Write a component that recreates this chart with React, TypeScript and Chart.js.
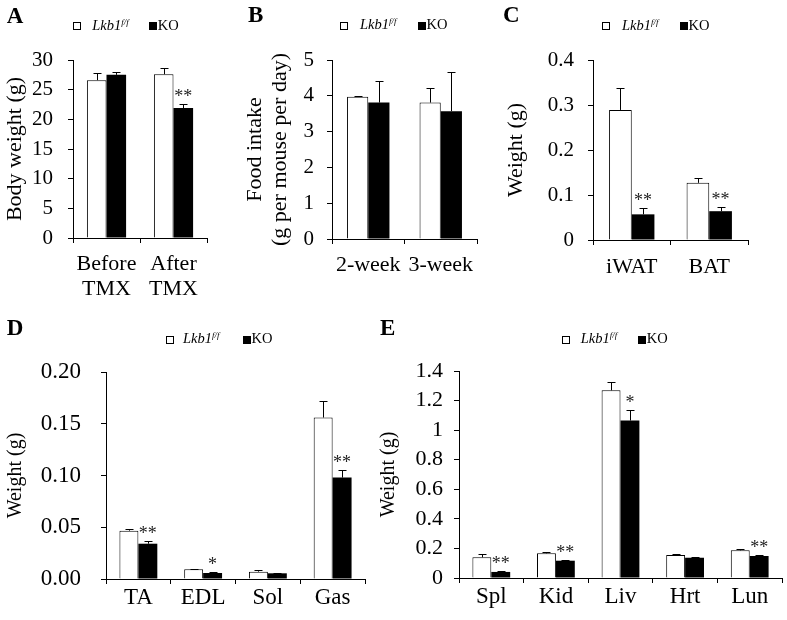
import React, { useEffect, useRef } from "react";
import { Chart, registerables } from "chart.js";
Chart.register(...registerables);

const FONT = "'Liberation Serif', 'Times New Roman', Times, serif";

// ---------- Panel A: body weight ----------
const A_CATS = [["Before", "TMX"], ["After", "TMX"]];
const A_WT = [26.6, 27.6];
const A_WT_ERR = [1.2, 1.0];
const A_KO = [27.5, 21.9];
const A_KO_ERR = [0.4, 0.7];
const A_SIG = ["", "**"];
const A_TICKS = ["0", "5", "10", "15", "20", "25", "30"];

// ---------- Panel B: food intake ----------
const B_CATS = ["2-week", "3-week"];
const B_WT = [3.97, 3.81];
const B_WT_ERR = [0.02, 0.41];
const B_KO = [3.81, 3.57];
const B_KO_ERR = [0.61, 1.1];
const B_SIG = ["", ""];
const B_TICKS = ["0", "1", "2", "3", "4", "5"];

// ---------- Panel C: fat weight ----------
const C_CATS = ["iWAT", "BAT"];
const C_WT = [0.289, 0.127];
const C_WT_ERR = [0.048, 0.01];
const C_KO = [0.057, 0.064];
const C_KO_ERR = [0.014, 0.009];
const C_SIG = ["**", "**"];
const C_TICKS = ["0", "0.1", "0.2", "0.3", "0.4"];

// ---------- Panel D: muscle weight ----------
const D_CATS = ["TA", "EDL", "Sol", "Gas"];
const D_WT = [0.0467, 0.0093, 0.0071, 0.156];
const D_WT_ERR = [0.0016, 0.0005, 0.0013, 0.016];
const D_KO = [0.0341, 0.0058, 0.0055, 0.098];
const D_KO_ERR = [0.0023, 0.0006, 0.0004, 0.0074];
const D_SIG = ["**", "*", "", "**"];
const D_TICKS = ["0.00", "0.05", "0.10", "0.15", "0.20"];

// ---------- Panel E: organ weight ----------
const E_CATS = ["Spl", "Kid", "Liv", "Hrt", "Lun"];
const E_WT = [0.14, 0.167, 1.269, 0.155, 0.187];
const E_WT_ERR = [0.022, 0.009, 0.054, 0.007, 0.009];
const E_KO = [0.041, 0.117, 1.065, 0.137, 0.149];
const E_KO_ERR = [0.004, 0.004, 0.074, 0.004, 0.007];
const E_SIG = ["**", "**", "*", "", "**"];
const E_TICKS = ["0", "0.2", "0.4", "0.6", "0.8", "1", "1.2", "1.4"];

const SERIES_WT = "Lkb1 f/f";
const SERIES_KO = "KO";

const errorBarPlugin = {
  id: "errorBars",
  afterDatasetsDraw(chart: any) {
    const ctx = chart.ctx;
    const ys = chart.scales.y;
    chart.data.datasets.forEach((ds: any, di: number) => {
      const meta = chart.getDatasetMeta(di);
      const errs = ds.errors || [];
      const sig = ds.sig || [];
      meta.data.forEach((bar: any, i: number) => {
        const v = ds.data[i];
        const topPx = Math.round(ys.getPixelForValue(v + (errs[i] || 0))) + 0.5;
        const x = Math.round(bar.x) + 0.5;
        ctx.save();
        ctx.strokeStyle = "#000";
        ctx.lineWidth = 1;
        ctx.beginPath();
        ctx.moveTo(x, bar.y);
        ctx.lineTo(x, topPx);
        ctx.moveTo(x - 4, topPx);
        ctx.lineTo(x + 4, topPx);
        ctx.stroke();
        if (sig[i]) {
          ctx.font = `18px ${FONT}`;
          ctx.fillStyle = "#222";
          ctx.textAlign = "center";
          ctx.textBaseline = "alphabetic";
          ctx.fillText(sig[i], bar.x, topPx - 3);
        }
        ctx.restore();
      });
    });
  },
};

type PanelCfg = {
  left: number; top: number; w: number; h: number;
  cats: any[]; wt: number[]; wtErr: number[]; ko: number[]; koErr: number[]; sig: string[];
  ticks: string[]; min: number; max: number; step: number;
  title: string | string[]; titleSize: number; titlePad: number;
  tickSize: number; tickPad: number;
  xSize: number; xLH: number; xPad: number;
  pad: { top: number; right: number; bottom: number; left: number };
  yWidth: number; xHeight: number;
};

const PANELS: PanelCfg[] = [
  {
    left: 0, top: 0, w: 240, h: 310,
    cats: A_CATS, wt: A_WT, wtErr: A_WT_ERR, ko: A_KO, koErr: A_KO_ERR, sig: A_SIG,
    ticks: A_TICKS, min: 0, max: 30, step: 5,
    title: "Body weight (g)", titleSize: 22, titlePad: 2.5,
    tickSize: 21, tickPad: 15, xSize: 22, xLH: 25 / 22, xPad: 9,
    pad: { top: 60, right: 33, bottom: 0, left: 0 }, yWidth: 73, xHeight: 72,
  },
  {
    left: 242, top: 0, w: 258, h: 310,
    cats: B_CATS, wt: B_WT, wtErr: B_WT_ERR, ko: B_KO, koErr: B_KO_ERR, sig: B_SIG,
    ticks: B_TICKS, min: 0, max: 5, step: 1,
    title: ["Food intake", "(g per mouse per day)"], titleSize: 22, titlePad: 0.5,
    tickSize: 21, tickPad: 13, xSize: 22, xLH: 25 / 22, xPad: 9,
    pad: { top: 60, right: 23, bottom: 0, left: 0 }, yWidth: 90, xHeight: 71,
  },
  {
    left: 500, top: 0, w: 287, h: 310,
    cats: C_CATS, wt: C_WT, wtErr: C_WT_ERR, ko: C_KO, koErr: C_KO_ERR, sig: C_SIG,
    ticks: C_TICKS, min: 0, max: 0.4, step: 0.1,
    title: "Weight (g)", titleSize: 22, titlePad: 3.5,
    tickSize: 21, tickPad: 14, xSize: 22, xLH: 25 / 22, xPad: 10,
    pad: { top: 60, right: 39, bottom: 0, left: 0 }, yWidth: 93, xHeight: 70,
  },
  {
    left: 0, top: 310, w: 375, h: 310,
    cats: D_CATS, wt: D_WT, wtErr: D_WT_ERR, ko: D_KO, koErr: D_KO_ERR, sig: D_SIG,
    ticks: D_TICKS, min: 0, max: 0.2, step: 0.05,
    title: "Weight (g)", titleSize: 20, titlePad: 4.6,
    tickSize: 23, tickPad: 20, xSize: 23, xLH: 1.2, xPad: 0,
    pad: { top: 62, right: 10, bottom: 0, left: 0 }, yWidth: 106, xHeight: 41,
  },
  {
    left: 375, top: 310, w: 412, h: 310,
    cats: E_CATS, wt: E_WT, wtErr: E_WT_ERR, ko: E_KO, koErr: E_KO_ERR, sig: E_SIG,
    ticks: E_TICKS, min: 0, max: 1.4, step: 0.2,
    title: "Weight (g)", titleSize: 20, titlePad: 2.6,
    tickSize: 22, tickPad: 11, xSize: 23, xLH: 1.2, xPad: 0,
    pad: { top: 61, right: 5, bottom: 0, left: 0 }, yWidth: 84, xHeight: 42,
  },
];

function makeConfig(p: PanelCfg): any {
  return {
    type: "bar",
    data: {
      labels: p.cats,
      datasets: [
        {
          label: SERIES_WT, data: p.wt, errors: p.wtErr, sig: [],
          backgroundColor: "#fff", borderColor: "#000", borderWidth: 1,
          categoryPercentage: 0.585, barPercentage: 1,
        },
        {
          label: SERIES_KO, data: p.ko, errors: p.koErr, sig: p.sig,
          backgroundColor: "#000", borderColor: "#000", borderWidth: 0,
          categoryPercentage: 0.585, barPercentage: 1,
        },
      ],
    },
    options: {
      animation: false,
      responsive: false,
      devicePixelRatio: 1,
      layout: { padding: p.pad },
      plugins: { legend: { display: false }, tooltip: { enabled: false } },
      scales: {
        x: {
          type: "category",
          afterFit: (s: any) => { s.height = p.xHeight; },
          grid: { display: true, offset: true, drawOnChartArea: false, drawTicks: true, tickLength: 5, color: "#000", lineWidth: 1 },
          border: { display: true, color: "#000", width: 1 },
          ticks: {
            color: "#000", padding: p.xPad, maxRotation: 0, autoSkip: false,
            font: { family: FONT, size: p.xSize, lineHeight: p.xLH },
          },
        },
        y: {
          min: p.min, max: p.max,
          afterFit: (s: any) => { s.width = p.yWidth; },
          grid: { display: true, drawOnChartArea: false, drawTicks: true, tickLength: 5, color: "#000", lineWidth: 1 },
          border: { display: true, color: "#000", width: 1 },
          ticks: {
            stepSize: p.step, color: "#000", padding: p.tickPad,
            font: { family: FONT, size: p.tickSize },
            callback: (_v: any, i: number) => p.ticks[i],
          },
          title: {
            display: true, text: p.title, color: "#000",
            font: { family: FONT, size: p.titleSize, lineHeight: 25 / 22 },
            padding: { top: p.titlePad, bottom: 0 },
          },
        },
      },
    },
    plugins: [errorBarPlugin],
  };
}

function Panel({ p }: { p: PanelCfg }) {
  const ref = useRef<HTMLCanvasElement | null>(null);
  useEffect(() => {
    if (!ref.current) return;
    const chart = new Chart(ref.current, makeConfig(p));
    return () => chart.destroy();
  }, [p]);
  return (
    <canvas
      ref={ref}
      width={p.w}
      height={p.h}
      style={{ position: "absolute", left: p.left, top: p.top, width: p.w, height: p.h }}
    />
  );
}

function Txt({ x, baseline, size, bold, italic, children }: any) {
  return (
    <div
      style={{
        position: "absolute", left: x, top: baseline - 0.8375 * size,
        fontFamily: FONT, fontSize: size, lineHeight: `${size}px`,
        fontWeight: bold ? "bold" : "normal", fontStyle: italic ? "italic" : "normal",
        whiteSpace: "nowrap", color: "#000",
      }}
    >
      {children}
    </div>
  );
}

const LEGENDS = [
  { sq: 73.3, tx: 92.3, bk: 149.3, base: 30 },
  { sq: 340, tx: 360, bk: 418, base: 29.5 },
  { sq: 601.7, tx: 622, bk: 680, base: 30 },
  { sq: 165.7, tx: 183, bk: 243, base: 343.5 },
  { sq: 561.7, tx: 580.7, bk: 638.3, base: 343.5 },
];

const LETTERS = [
  { t: "A", x: 6.7, base: 23.3 },
  { t: "B", x: 248, base: 22.5 },
  { t: "C", x: 503, base: 22.5 },
  { t: "D", x: 6.7, base: 335 },
  { t: "E", x: 380, base: 335 },
];

function Legend({ sq, tx, bk, base }: any) {
  const fs = 14.5;
  return (
    <>
      <div style={{ position: "absolute", left: sq, top: base - 8, width: 8, height: 8, boxSizing: "border-box", border: "1px solid #000", background: "#fff" }} />
      <Txt x={tx} baseline={base} size={fs} italic>
        Lkb1<span style={{ fontSize: 9, position: "relative", top: -5 }}>f/f</span>
      </Txt>
      <div style={{ position: "absolute", left: bk, top: base - 8, width: 8, height: 8, background: "#000" }} />
      <Txt x={bk + 8.5} baseline={base} size={fs}>{SERIES_KO}</Txt>
    </>
  );
}

export default function App() {
  return (
    <div style={{ position: "absolute", left: 0, top: 0, width: 787, height: 620, background: "#fff", overflow: "hidden" }}>
      {PANELS.map((p, i) => <Panel key={i} p={p} />)}
      {LEGENDS.map((l, i) => <Legend key={i} {...l} />)}
      {LETTERS.map((l) => (
        <Txt key={l.t} x={l.x} baseline={l.base} size={23} bold>{l.t}</Txt>
      ))}
    </div>
  );
}
